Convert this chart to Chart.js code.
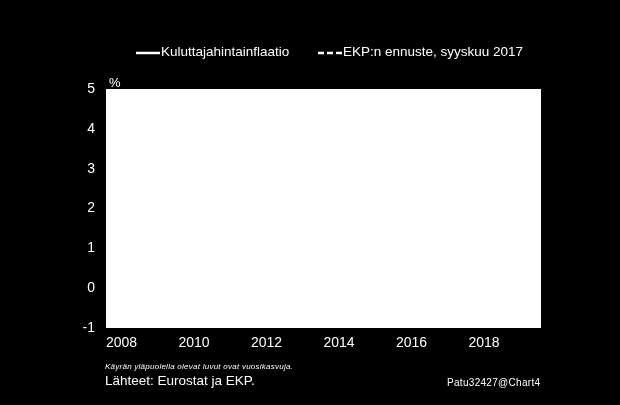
<!DOCTYPE html>
<html>
<head>
<meta charset="utf-8">
<script src="https://cdn.jsdelivr.net/npm/chart.js@4"></script>
<style>
  html, body { margin: 0; padding: 0; background: #000; }
  #wrap { position: relative; width: 620px; height: 405px; background: #000; overflow: hidden; }
  #chart { position: absolute; left: 0; top: 0; }
  .note { position: absolute; color: #fff; font-family: "Liberation Sans", Arial, sans-serif; white-space: nowrap; }
  #footNote { left: 105px; top: 362px; font-size: 8px; font-style: italic; letter-spacing: 0.25px; }
  #sources { left: 105px; top: 373px; font-size: 13.5px; }
  #chartId { left: 447px; top: 377px; font-size: 10px; letter-spacing: 0.3px; }
</style>
</head>
<body>
<div id="wrap">
  <canvas id="chart" width="620" height="405"></canvas>
  <div class="note" id="footNote">Käyrän yläpuolella olevat luvut ovat vuosikasvuja.</div>
  <div class="note" id="sources">Lähteet: Eurostat ja EKP.</div>
  <div class="note" id="chartId">Patu32427@Chart4</div>
</div>
<script>
// Quarterly time points (decimal year, mid-quarter)
let inflationTimes = [
    2008.125, 2008.375, 2008.625, 2008.875,
    2009.125, 2009.375, 2009.625, 2009.875,
    2010.125, 2010.375, 2010.625, 2010.875,
    2011.125, 2011.375, 2011.625, 2011.875,
    2012.125, 2012.375, 2012.625, 2012.875,
    2013.125, 2013.375, 2013.625, 2013.875,
    2014.125, 2014.375, 2014.625, 2014.875,
    2015.125, 2015.375, 2015.625, 2015.875,
    2016.125, 2016.375, 2016.625, 2016.875,
    2017.125, 2017.375, 2017.625
];
// Consumer price inflation, % (line is white on white in the reference)
let inflationValues = [
    3.4, 3.6, 3.8, 2.3,
    1.0, 0.2, -0.4, 0.4,
    1.1, 1.6, 1.7, 2.0,
    2.5, 2.8, 2.7, 2.9,
    2.7, 2.5, 2.5, 2.3,
    1.9, 1.4, 1.3, 0.8,
    0.7, 0.6, 0.4, 0.2,
    -0.3, 0.2, 0.1, 0.2,
    0.0, -0.1, 0.3, 0.7,
    1.8, 1.5, 1.4
];
// ECB projection, September 2017
let forecastTimes = [2017.5, 2018.5, 2019.5];
let forecastValues = [1.5, 1.2, 1.5];

let seriesLabels = ["Kuluttajahintainflaatio", "EKP:n ennuste, syyskuu 2017"];
let yTicks = [-1, 0, 1, 2, 3, 4, 5];
let xTicks = [2008, 2010, 2012, 2014, 2016, 2018];

function toPoints(xs, ys) {
    return xs.map(function(x, i) { return { x: x, y: ys[i] }; });
}

// White plot area behind the lines
const plotBackground = {
    id: "plotBackground",
    beforeDraw(chart) {
        let a = chart.chartArea;
        let ctx = chart.ctx;
        ctx.save();
        ctx.fillStyle = "#ffffff";
        ctx.fillRect(a.left, a.top, a.right - a.left, a.bottom - a.top);
        ctx.restore();
    }
};

// Legend above the chart and the % unit label
const topLegend = {
    id: "topLegend",
    afterDraw(chart) {
        let ctx = chart.ctx;
        let startX = [136, 318];
        ctx.save();
        ctx.font = '13.5px "Liberation Sans", Arial, sans-serif';
        ctx.textBaseline = "middle";
        ctx.fillStyle = "#ffffff";
        chart.data.datasets.forEach(function(ds, i) {
            ctx.strokeStyle = "#ffffff";
            ctx.lineWidth = 2.5;
            ctx.setLineDash(ds.borderDash || []);
            ctx.beginPath();
            ctx.moveTo(startX[i], 53);
            ctx.lineTo(startX[i] + 24, 53);
            ctx.stroke();
            ctx.fillText(ds.label, startX[i] + 25, 52);
        });
        ctx.setLineDash([]);
        ctx.font = '13px "Liberation Sans", Arial, sans-serif';
        ctx.fillText("%", 109, 83);
        ctx.restore();
    }
};

new Chart(document.getElementById("chart").getContext("2d"), {
    type: "line",
    data: {
        datasets: [
            {
                label: seriesLabels[0],
                data: toPoints(inflationTimes, inflationValues),
                borderColor: "#ffffff",
                borderWidth: 2.5,
                pointRadius: 0,
                fill: false
            },
            {
                label: seriesLabels[1],
                data: toPoints(forecastTimes, forecastValues),
                borderColor: "#ffffff",
                borderWidth: 2.5,
                borderDash: [6, 3],
                pointRadius: 0,
                fill: false
            }
        ]
    },
    plugins: [plotBackground, topLegend],
    options: {
        responsive: false,
        animation: false,
        layout: { padding: { top: 89, right: 79, bottom: 47, left: 0 } },
        plugins: {
            legend: { display: false },
            tooltip: { enabled: false }
        },
        scales: {
            x: {
                type: "linear",
                min: 2008,
                max: 2020,
                afterBuildTicks: function(scale) {
                    scale.ticks = xTicks.map(function(v) { return { value: v }; });
                },
                afterFit: function(scale) { scale.height = 30; },
                grid: { display: false, drawTicks: false },
                border: { display: false },
                ticks: {
                    color: "#ffffff",
                    align: "start",
                    padding: 7,
                    maxRotation: 0,
                    font: { family: '"Liberation Sans", Arial, sans-serif', size: 14 },
                    callback: function(v) { return String(v); }
                }
            },
            y: {
                min: -1,
                max: 5,
                afterBuildTicks: function(scale) {
                    scale.ticks = yTicks.map(function(v) { return { value: v }; });
                },
                afterFit: function(scale) { scale.width = 106; },
                grid: { display: false, drawTicks: false },
                border: { display: false },
                ticks: {
                    color: "#ffffff",
                    padding: 11,
                    font: { family: '"Liberation Sans", Arial, sans-serif', size: 14 }
                }
            }
        }
    }
});
</script>
</body>
</html>
